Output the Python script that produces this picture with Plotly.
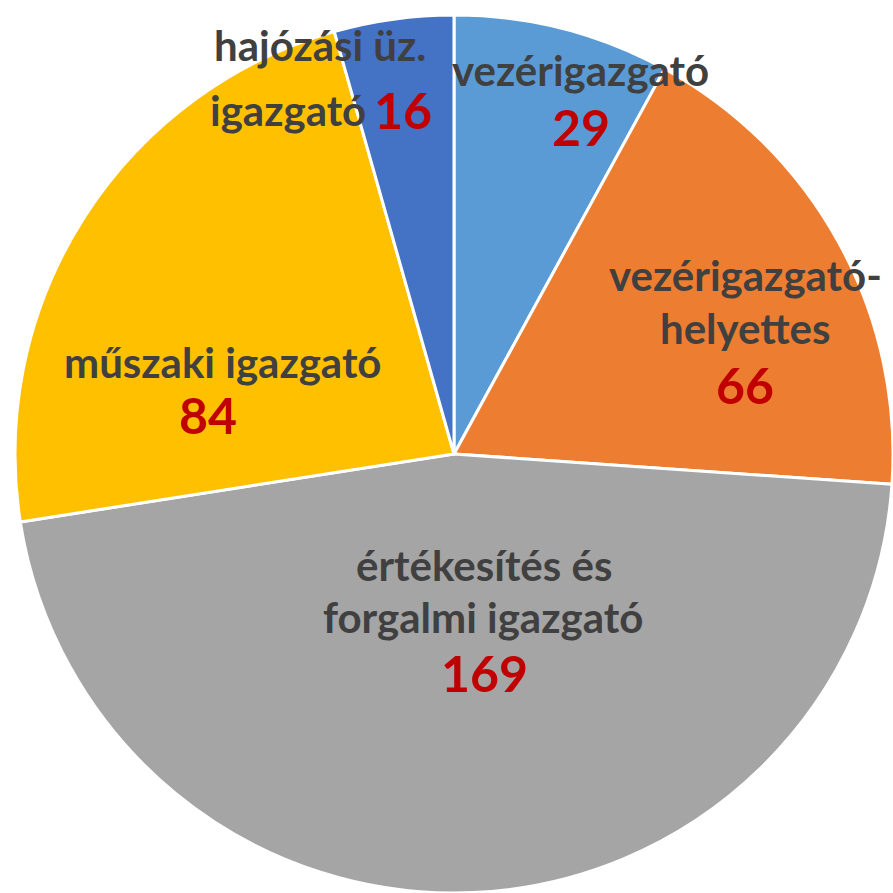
import plotly.graph_objects as go

# adatok
labels = ["vezérigazgató", "vezérigazgató-helyettes", "értékesítés és forgalmi igazgató",
          "műszaki igazgató", "hajózási üz. igazgató"]
values = [29, 66, 169, 84, 16]
colors = ["#5B9BD5", "#ED7D31", "#A5A5A5", "#FFC000", "#4472C4"]

# label text split into lines as in the picture
name_lines = [["vezérigazgató"],
              ["vezérigazgató-", "helyettes"],
              ["értékesítés és", "forgalmi igazgató"],
              ["műszaki igazgató"],
              ["hajózási üz.", "igazgató"]]

W = 893
# label line centres (pixels) and value centres
name_pos = [[(580, 70)],
            [(745, 275), (745, 328)],
            [(484, 565), (483, 617)],
            [(222, 362)],
            [(320, 45), (288, 110)]]
value_pos = [(581, 127), (745, 385), (484, 673), (208, 415), (403, 110)]

fig = go.Figure(go.Pie(
    labels=labels, values=values, sort=False, direction="clockwise", rotation=0,
    marker=dict(colors=colors, line=dict(color="white", width=3)),
    textinfo="none", showlegend=False,
    domain=dict(x=[15 / W, 1], y=[0, 1 - 15 / W]),
))

def px(x, y):
    return x / W, 1 - y / W

for i in range(len(labels)):
    for line, (x, y) in zip(name_lines[i], name_pos[i]):
        ax, ay = px(x, y)
        fig.add_annotation(x=ax, y=ay, xref="paper", yref="paper", text=line, showarrow=False,
                           xanchor="center", yanchor="middle",
                           font=dict(family="Lato", size=42, color="#404040", weight="bold"))
    ax, ay = px(*value_pos[i])
    fig.add_annotation(x=ax, y=ay, xref="paper", yref="paper", text=str(values[i]), showarrow=False,
                       xanchor="center", yanchor="middle",
                       font=dict(family="Lato", size=50, color="#C00000", weight="bold"))

fig.update_layout(width=W, height=W, margin=dict(l=0, r=0, t=0, b=0),
                  paper_bgcolor="white", plot_bgcolor="white")
# drop the default page margin so the figure fills the window
fig.write_html("out.html", config={"displayModeBar": False},
               post_script="document.body.style.margin='0';")
